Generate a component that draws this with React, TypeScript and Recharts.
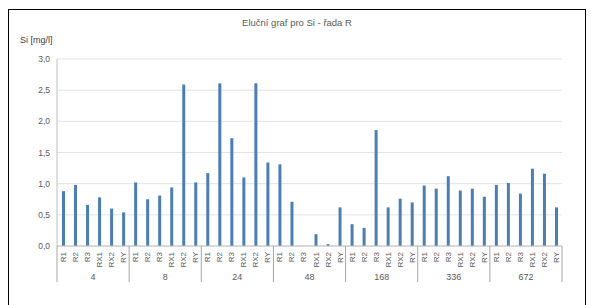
import React from "react";
import { BarChart, Bar, XAxis, YAxis, CartesianGrid } from "recharts";

// elution data for Si, series R (mg/l), per time group
const groups = ["4", "8", "24", "48", "168", "336", "672"];
const samples = ["R1", "R2", "R3", "RX1", "RX2", "RY"];
const si4 = [0.88, 0.98, 0.66, 0.78, 0.6, 0.54];
const si8 = [1.02, 0.75, 0.81, 0.94, 2.59, 1.02];
const si24 = [1.17, 2.61, 1.73, 1.1, 2.61, 1.34];
const si48 = [1.31, 0.71, 0, 0.19, 0.03, 0.62];
const si168 = [0.35, 0.29, 1.86, 0.62, 0.76, 0.7];
const si336 = [0.97, 0.92, 1.12, 0.89, 0.92, 0.79];
const si672 = [0.98, 1.01, 0.84, 1.24, 1.16, 0.62];
const yTicks = [0, 0.5, 1, 1.5, 2, 2.5, 3];

const values = [si4, si8, si24, si48, si168, si336, si672];
const data = groups.flatMap((g, gi) =>
  samples.map((s, si) => ({ group: g, sample: s, si: values[gi][si] }))
);

const FONT = "'Liberation Sans', Arial, sans-serif";
const PLOT_LEFT = 57;
const PLOT_RIGHT = 562;
const PLOT_BOTTOM = 246;
const BAND = (PLOT_RIGHT - PLOT_LEFT) / data.length;

const SampleTick = (props: any) => {
  const { x, payload } = props;
  const y = PLOT_BOTTOM + 6;
  return (
    <text
      x={x}
      y={y}
      dy={3}
      transform={`rotate(-90 ${x} ${y})`}
      textAnchor="end"
      fontSize={8}
      fontFamily={FONT}
      fill="#595959"
    >
      {payload.value}
    </text>
  );
};

const GroupTick = (props: any) => {
  const { x, payload } = props;
  const i = payload.index;
  const parts: React.ReactNode[] = [];
  if (i % 6 === 0) {
    parts.push(
      <line key="l" x1={x - BAND / 2} x2={x - BAND / 2} y1={PLOT_BOTTOM} y2={282} stroke="#a6a6a6" />
    );
  }
  if (i === data.length - 1) {
    parts.push(
      <line key="r" x1={x + BAND / 2} x2={x + BAND / 2} y1={PLOT_BOTTOM} y2={282} stroke="#a6a6a6" />
    );
  }
  if (i % 6 === 2) {
    parts.push(
      <text key="t" x={x + BAND / 2} y={280} textAnchor="middle" fontSize={9} fontFamily={FONT} fill="#595959">
        {payload.value}
      </text>
    );
  }
  return <g>{parts}</g>;
};

export default function App() {
  return (
    <div style={{ position: "absolute", left: 0, top: 0, width: 591, height: 305, background: "#fff" }}>
      <div
        style={{
          position: "absolute",
          left: 8,
          top: 9,
          width: 578,
          height: 300,
          boxSizing: "border-box",
          borderTop: "1px solid #000",
          borderLeft: "1px solid #000",
          borderRight: "1px solid #000",
        }}
      />
      <div
        style={{
          position: "absolute",
          left: 0,
          width: 594,
          top: 17,
          textAlign: "center",
          fontFamily: FONT,
          fontSize: 9.5,
          color: "#595959",
        }}
      >
        Eluční graf pro Si - řada R
      </div>
      <div
        style={{
          position: "absolute",
          left: 20,
          top: 35,
          fontFamily: FONT,
          fontSize: 9,
          color: "#404040",
        }}
      >
        Si [mg/l]
      </div>
      <div style={{ position: "absolute", left: 0, top: 0 }}>
        <BarChart
          width={591}
          height={305}
          data={data}
          margin={{ top: 59, right: 591 - PLOT_RIGHT, left: 17, bottom: 9 }}
          barSize={3}
        >
          <CartesianGrid vertical={false} stroke="#e3e3e3" />
          <XAxis
            dataKey="sample"
            xAxisId={0}
            interval={0}
            tickLine={false}
            axisLine={{ stroke: "#bfbfbf" }}
            tick={<SampleTick />}
            height={30}
          />
          <XAxis
            dataKey="group"
            xAxisId={1}
            interval={0}
            tickLine={false}
            axisLine={false}
            tick={<GroupTick />}
            height={20}
            allowDuplicatedCategory
          />
          <YAxis
            width={40}
            domain={[0, 3]}
            ticks={yTicks}
            interval={0}
            tickLine={false}
            axisLine={{ stroke: "#bfbfbf" }}
            tickFormatter={(v: number) => v.toFixed(1).replace(".", ",")}
            tick={{ fontSize: 8.5, fontFamily: FONT, fill: "#595959" }}
            tickMargin={1}
          />
          <Bar dataKey="si" xAxisId={0} fill="#4a7ebb" isAnimationActive={false} />
        </BarChart>
      </div>
    </div>
  );
}
